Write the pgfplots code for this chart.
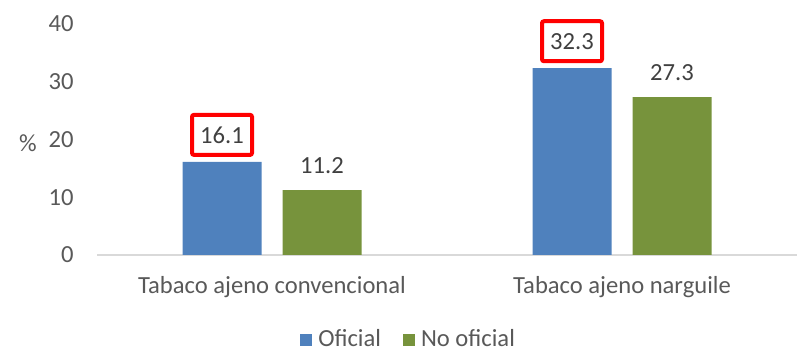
\documentclass[border=0pt]{standalone}
\usepackage{fontspec}
\setmainfont{Carlito}
\usepackage{pgfplots}
\pgfplotsset{compat=1.18}

\definecolor{barblue}{HTML}{4F81BD}
\definecolor{bargreen}{HTML}{77933C}
\definecolor{ticktext}{HTML}{595959}
\definecolor{labeltext}{HTML}{404040}
\definecolor{axisgray}{HTML}{D9D9D9}

\begin{document}
\begin{tikzpicture}[font=\fontsize{12.3}{14}\selectfont]
% page = 798 x 357 px, 1px = 0.5pt; axis origin at px (97,255)
\useasboundingbox (-48.5pt,-51pt) rectangle (350.5pt,127.5pt);
\begin{axis}[
    scale only axis,
    width=350pt, height=115.65pt,
    xmin=-0.5, xmax=1.5,
    ymin=0, ymax=40,
    ybar, bar width=39.5pt,
    axis x line=bottom, axis y line=left,
    y axis line style={draw=none},
    x axis line style={-, draw=axisgray, line width=0.75pt},
    major tick length=0pt,
    xtick={0,1},
    xticklabels={Tabaco ajeno convencional, Tabaco ajeno narguile},
    x tick label style={anchor=center, yshift=-16pt, text=ticktext},
    ytick={0,10,20,30,40},
    y tick label style={anchor=east, inner sep=0pt, xshift=-11.5pt, text=ticktext},
    /pgf/number format/assume math mode=true,
    legend columns=2,
    legend style={draw=none, at={(0.448,-0.367)}, anchor=center,
        text=ticktext, /tikz/every even column/.append style={column sep=8pt},
        inner sep=0pt, nodes={inner xsep=3pt}},
    legend image code/.code={\fill[#1] (0pt,-3pt) rectangle (6pt,3pt);},
    nodes near coords={\pgfmathprintnumber[fixed,fixed zerofill,precision=1,assume math mode=true]{\pgfplotspointmeta}},
    nodes near coords style={anchor=center, yshift=12.5pt, text=labeltext},
    clip=false,
]
\addplot[fill=barblue, draw=none, bar shift=-25pt,
    nodes near coords style={draw=red, line width=2pt, rounded corners=1pt,
        minimum width=30pt, minimum height=20pt, yshift=1pt}]
    coordinates {(0,16.1) (1,32.3)};
\addlegendentry{Oficial}
\addplot[fill=bargreen, draw=none, bar shift=25pt]
    coordinates {(0,11.2) (1,27.3)};
\addlegendentry{No oficial}
\end{axis}
\node[text=ticktext] at (-34.5pt,56pt) {\%};
\end{tikzpicture}
\end{document}
